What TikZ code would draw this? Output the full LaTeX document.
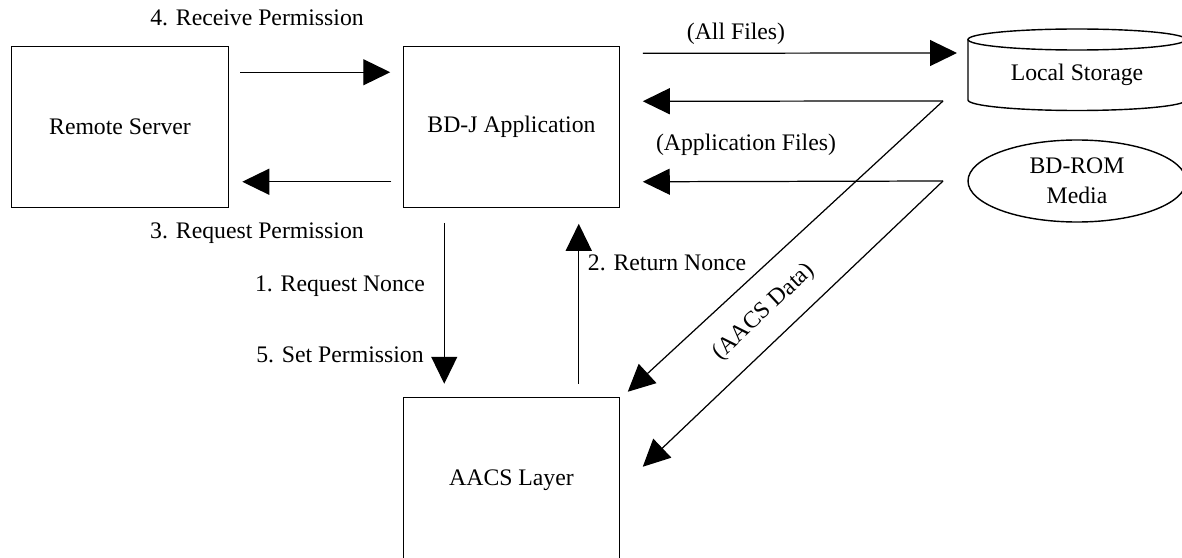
\documentclass[tikz,border=0pt]{standalone}
\usepackage{fontspec}
\setmainfont{Liberation Serif}
\usetikzlibrary{arrows.meta, calc, positioning, shapes.geometric}

\begin{document}
\begin{tikzpicture}[x=0.2mm, y=-0.2mm, >={Triangle[length=5.4mm, width=5.2mm]},
    font=\fontsize{13.5}{17}\selectfont,
    unit/.style={draw, line width=0.8pt, inner sep=0pt, outer sep=0pt, minimum width=43.3mm, minimum height=32.3mm},
    flow/.style={->, line width=0.7pt}]
                \useasboundingbox (0,0) rectangle (1182,558);

                % Boxes
                \node[unit] (rs) at (120,127) {Remote Server};
                \node[unit, right=35mm of rs] (bdj) {BD-J Application};
                \node[unit, below=38mm of bdj, minimum height=33mm] (aacs) {AACS Layer};

                % Local storage (cylinder)
                \draw[line width=0.8pt] (968,39.5) -- (968,100) arc[start angle=180, end angle=360, x radius=21.8mm, y radius=2.1mm] -- (1186,39.5);
                \draw[line width=0.8pt] (1077,39.5) ellipse [x radius=21.8mm, y radius=2.1mm];
                \node (ls) at (1077,75) {Local Storage};

                % Disc
                \node[draw, ellipse, line width=0.8pt, inner sep=0pt, minimum width=43.6mm, minimum height=16.4mm, align=center] (rom) at (1077,181) {BD-ROM\\Media};

                % Remote server link
                \draw[flow] ($(rs.north east)+(12,26)$) -- ($(bdj.north west)+(-13,26)$);
                \draw[flow] ($(bdj.south west)+(-12,-26)$) -- ($(rs.south east)+(14,-26)$);
                \node (recv) at (257,18) {4. Receive Permission};
                \node (reqp) at (257,233) {3. Request Permission};

                % Nonce
                \draw[flow] ($(bdj.south west)+(41,15)$) -- ($(aacs.north west)+(41,-14)$);
                \draw[flow] ($(aacs.north east)+(-41,-14)$) -- ($(bdj.south east)+(-41,16)$);
                \node (reqn) at (340,286) {1. Request Nonce};
                \node (setp) at (340,355) {5. Set Permission};
                \node (retn) at (667,263) {2. Return Nonce};

                % Files
                \coordinate (lsin) at (957,53);
                \coordinate (ret1) at (943,101);
                \coordinate (ret2) at (943,181);
                \draw[flow] ($(bdj.north east)+(23,7)$) -- (lsin);
                \draw[flow] (ret1) -- ($(bdj.north east)+(23,55)$);
                \draw[flow] (ret2) -- ($(bdj.south east)+(23,-26)$);
                \draw[flow] (ret1) -- ($(aacs.north east)+(8,-6)$);
                \draw[flow] (ret2) -- ($(aacs.north east)+(23,69)$);
                \node (allf) at (736,34) {(All Files)};
                \node (appf) at (746,145) {(Application Files)};
                \node[rotate=43] (aacsd) at (764,312) {(AACS Data)};
\end{tikzpicture}
\end{document}
